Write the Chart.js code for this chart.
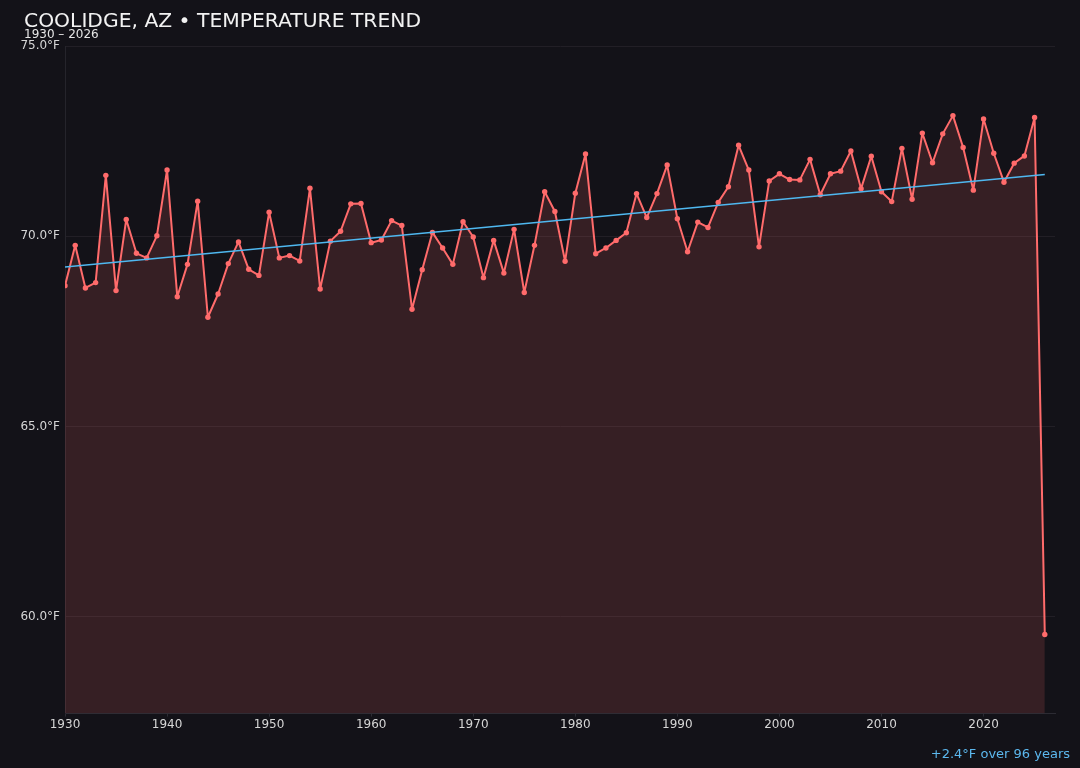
<!DOCTYPE html>
<html>
<head>
<meta charset="utf-8">
<script src="https://cdn.jsdelivr.net/npm/chart.js@4"></script>
<style>
    html, body {
        margin: 0;
        padding: 0;
        background: #131218;
        font-family: 'DejaVu Sans', sans-serif;
    }
    #wrap {
        position: relative;
        width: 1080px;
        height: 768px;
    }
    #title {
        position: absolute;
        left: 24px;
        top: 8px;
        color: #f2f2f2;
        font-size: 20.3px;
    }
    #subtitle {
        position: absolute;
        left: 24px;
        top: 27px;
        color: #e6e6e6;
        font-size: 12px;
    }
    #note {
        position: absolute;
        right: 10px;
        top: 746px;
        color: #5cb8ee;
        font-size: 13px;
    }
</style>
</head>
<body>
<div id="wrap">
    <canvas id="tempChart" width="1080" height="768"></canvas>
    <div id="title">COOLIDGE, AZ • TEMPERATURE TREND</div>
    <div id="subtitle">1930 – 2026</div>
    <div id="note">+2.4°F over 96 years</div>
</div>
<script>
// Annual mean temperature, °F
const years = [
    1930, 1931, 1932, 1933, 1934, 1935, 1936, 1937, 1938, 1939,
    1940, 1941, 1942, 1943, 1944, 1945, 1946, 1947, 1948, 1949,
    1950, 1951, 1952, 1953, 1954, 1955, 1956, 1957, 1958, 1959,
    1960, 1961, 1962, 1963, 1964, 1965, 1966, 1967, 1968, 1969,
    1970, 1971, 1972, 1973, 1974, 1975, 1976, 1977, 1978, 1979,
    1980, 1981, 1982, 1983, 1984, 1985, 1986, 1987, 1988, 1989,
    1990, 1991, 1992, 1993, 1994, 1995, 1996, 1997, 1998, 1999,
    2000, 2001, 2002, 2003, 2004, 2005, 2006, 2007, 2008, 2009,
    2010, 2011, 2012, 2013, 2014, 2015, 2016, 2017, 2018, 2019,
    2020, 2021, 2022, 2023, 2024, 2025, 2026
];
const temps = [
    68.70, 69.76, 68.64, 68.78, 71.60, 68.57, 70.44, 69.55, 69.43, 70.01,
    71.74, 68.41, 69.26, 70.92, 67.87, 68.48, 69.28, 69.85, 69.13, 68.97,
    70.63, 69.43, 69.49, 69.35, 71.26, 68.61, 69.87, 70.13, 70.85, 70.86,
    69.83, 69.90, 70.41, 70.28, 68.08, 69.12, 70.10, 69.69, 69.26, 70.38,
    69.98, 68.91, 69.89, 69.03, 70.18, 68.52, 69.76, 71.17, 70.65, 69.34,
    71.13, 72.16, 69.54, 69.69, 69.89, 70.09, 71.12, 70.49, 71.12, 71.87,
    70.46, 69.59, 70.37, 70.23, 70.89, 71.30, 72.39, 71.74, 69.72, 71.45,
    71.64, 71.49, 71.48, 72.02, 71.09, 71.64, 71.71, 72.24, 71.25, 72.10,
    71.17, 70.91, 72.31, 70.97, 72.71, 71.93, 72.69, 73.17, 72.33, 71.21,
    73.08, 72.18, 71.42, 71.92, 72.11, 73.12, 59.53
];

// Trend line end points
const trendYears = [1930, 2026];
const trendTemps = [69.19, 71.62];

// Axis ticks
const yearTicks = [1930, 1940, 1950, 1960, 1970, 1980, 1990, 2000, 2010, 2020];
const tempTicks = [60, 65, 70, 75];

document.addEventListener('DOMContentLoaded', function() {
    initTempChart();
});

function initTempChart() {
    const ctx = document.getElementById('tempChart').getContext('2d');
    const tickFont = { family: 'DejaVu Sans', size: 12 };

    new Chart(ctx, {
        type: 'line',
        data: {
            datasets: [{
                label: 'Trend',
                data: trendYears.map((y, i) => ({ x: y, y: trendTemps[i] })),
                borderColor: '#4fb8f0',
                borderWidth: 1.5,
                pointRadius: 0,
                fill: false,
                order: 0
            }, {
                label: 'Annual mean',
                data: years.map((y, i) => ({ x: y, y: temps[i] })),
                borderColor: '#ff6b6b',
                backgroundColor: 'rgba(255, 107, 107, 0.15)',
                borderWidth: 2,
                borderJoinStyle: 'round',
                pointRadius: 2.7,
                pointBackgroundColor: '#ff6b6b',
                pointBorderWidth: 0,
                tension: 0,
                fill: 'start',
                order: 1
            }]
        },
        options: {
            responsive: false,
            animation: false,
            layout: {
                padding: { top: 46, right: 25, bottom: 35, left: 0 }
            },
            scales: {
                x: {
                    type: 'linear',
                    min: 1930,
                    max: 2027,
                    afterBuildTicks: axis => {
                        axis.ticks = yearTicks.map(v => ({ value: v }));
                    },
                    grid: {
                        drawOnChartArea: false,
                        drawTicks: true,
                        tickLength: 3,
                        color: '#2c2b33'
                    },
                    border: {
                        color: '#2c2b33'
                    },
                    ticks: {
                        color: '#d6d6d6',
                        font: tickFont,
                        maxRotation: 0,
                        padding: 1,
                        callback: v => String(v)
                    }
                },
                y: {
                    min: 57.45,
                    max: 75,
                    afterBuildTicks: axis => {
                        axis.ticks = tempTicks.map(v => ({ value: v }));
                    },
                    afterFit: axis => {
                        axis.width = 65;
                    },
                    grid: {
                        color: '#221f26',
                        drawTicks: false
                    },
                    border: {
                        color: '#25242b'
                    },
                    ticks: {
                        color: '#d6d6d6',
                        font: tickFont,
                        padding: 5,
                        callback: v => v.toFixed(1) + '°F'
                    }
                }
            },
            plugins: {
                legend: {
                    display: false
                },
                tooltip: {
                    enabled: false
                }
            }
        }
    });
}
</script>
</body>
</html>
